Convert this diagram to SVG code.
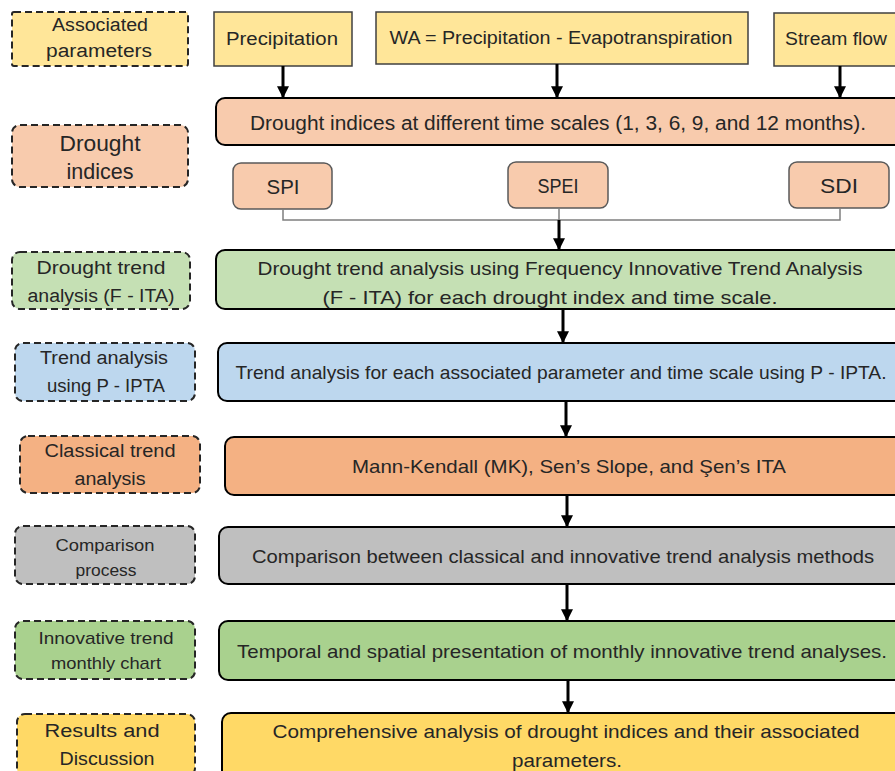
<svg xmlns="http://www.w3.org/2000/svg" width="895" height="771" viewBox="0 0 895 771">
<defs>
<marker id="ah" viewBox="0 0 10 10" refX="9" refY="5" markerWidth="4.5" markerHeight="4" orient="auto" markerUnits="strokeWidth"><path d="M0,0 L10,5 L0,10 z" fill="#000"/></marker>
<style>
text{font-family:"Liberation Sans",Arial,sans-serif;fill:#262626;text-anchor:middle;dominant-baseline:central}
.lab{stroke:#262626;stroke-width:2;stroke-dasharray:7,4}
.main{stroke:#000;stroke-width:2}
.top{stroke:#404040;stroke-width:1.5}
.idx{stroke:#595959;stroke-width:1.5}
.arr{stroke:#000;stroke-width:3;fill:none;marker-end:url(#ah)}
.con{stroke:#7f7f7f;stroke-width:1.5;fill:none}
.y1{fill:#FFE699}.o1{fill:#F8CBAD}.g1{fill:#C5E0B4}.b1{fill:#BDD7EE}.o2{fill:#F4B183}.gr{fill:#BFBFBF}.g2{fill:#A9D18E}.y2{fill:#FFD966}
.f18{font-size:18px}.f19{font-size:19px}.f20{font-size:20px}.f16{font-size:17px}.f22{font-size:22px}
</style>
</defs>
<rect width="895" height="771" fill="#fff"/>

<g id="lab-associated"><rect class="lab y1" x="12" y="12" width="176" height="54" rx="2"/><text class="f18" x="100" y="25" textLength="96" lengthAdjust="spacingAndGlyphs">Associated</text><text class="f18" x="99" y="51" textLength="106" lengthAdjust="spacingAndGlyphs">parameters</text></g>
<g id="lab-drought-indices"><rect class="lab o1" x="12" y="125" width="176" height="62" rx="8"/><text class="f22" x="100" y="143" textLength="81" lengthAdjust="spacingAndGlyphs">Drought</text><text class="f22" x="100" y="171" textLength="67" lengthAdjust="spacingAndGlyphs">indices</text></g>
<g id="lab-fita"><rect class="lab g1" x="12" y="252" width="178" height="57" rx="8"/><text class="f18" x="101" y="268" textLength="129" lengthAdjust="spacingAndGlyphs">Drought trend</text><text class="f18" x="101" y="296" textLength="147" lengthAdjust="spacingAndGlyphs">analysis (F - ITA)</text></g>
<g id="lab-pipta"><rect class="lab b1" x="15" y="343" width="180" height="58" rx="8"/><text class="f18" x="104" y="358" textLength="128" lengthAdjust="spacingAndGlyphs">Trend analysis</text><text class="f18" x="106" y="386" textLength="118" lengthAdjust="spacingAndGlyphs">using P - IPTA</text></g>
<g id="lab-classical"><rect class="lab o2" x="20" y="436" width="180" height="57" rx="8"/><text class="f18" x="110" y="451" textLength="131" lengthAdjust="spacingAndGlyphs">Classical trend</text><text class="f18" x="110" y="479" textLength="71" lengthAdjust="spacingAndGlyphs">analysis</text></g>
<g id="lab-comparison"><rect class="lab gr" x="15" y="526" width="180" height="58" rx="8"/><text class="f16" x="105" y="545" textLength="99" lengthAdjust="spacingAndGlyphs">Comparison</text><text class="f16" x="106" y="570" textLength="61" lengthAdjust="spacingAndGlyphs">process</text></g>
<g id="lab-innovative"><rect class="lab g2" x="15" y="621" width="180" height="58" rx="8"/><text class="f16" x="106" y="638" textLength="135" lengthAdjust="spacingAndGlyphs">Innovative trend</text><text class="f16" x="106" y="663" textLength="110" lengthAdjust="spacingAndGlyphs">monthly chart</text></g>
<g id="lab-results"><rect class="lab y2" x="17" y="714" width="178" height="62" rx="8"/><text class="f18" x="102" y="731" textLength="115" lengthAdjust="spacingAndGlyphs">Results and</text><text class="f18" x="107" y="759" textLength="95" lengthAdjust="spacingAndGlyphs">Discussion</text></g>

<g id="precipitation"><rect class="top y1" x="214" y="12" width="138" height="54"/><text class="f18" x="282" y="39" textLength="112" lengthAdjust="spacingAndGlyphs">Precipitation</text></g>
<g id="wa"><rect class="top y1" x="376" y="12" width="372" height="52"/><text class="f18" x="561" y="38" textLength="343" lengthAdjust="spacingAndGlyphs">WA = Precipitation - Evapotranspiration</text></g>
<g id="streamflow"><rect class="top y1" x="774" y="13" width="130" height="53"/><text class="f18" x="836" y="39" textLength="102" lengthAdjust="spacingAndGlyphs">Stream flow</text></g>

<g id="drought-indices"><rect class="main o1" x="216" y="98" width="690" height="47" rx="9"/><text class="f20" x="558" y="123" textLength="616" lengthAdjust="spacingAndGlyphs">Drought indices at different time scales (1, 3, 6, 9, and 12 months).</text></g>
<g id="spi"><rect class="idx o1" x="233" y="163" width="99" height="46" rx="8"/><text class="f20" x="283" y="187" textLength="33" lengthAdjust="spacingAndGlyphs">SPI</text></g>
<g id="spei"><rect class="idx o1" x="508" y="162" width="100" height="46" rx="8"/><text class="f20" x="558" y="186" textLength="41" lengthAdjust="spacingAndGlyphs">SPEI</text></g>
<g id="sdi"><rect class="idx o1" x="789" y="162" width="100" height="46" rx="8"/><text class="f20" x="839" y="186" textLength="38" lengthAdjust="spacingAndGlyphs">SDI</text></g>

<g id="fita"><rect class="main g1" x="216" y="250" width="690" height="59" rx="9"/><text class="f19" x="560" y="268" textLength="605" lengthAdjust="spacingAndGlyphs">Drought trend analysis using Frequency Innovative Trend Analysis</text><text class="f19" x="550" y="297" textLength="455" lengthAdjust="spacingAndGlyphs">(F - ITA) for each drought index and time scale.</text></g>
<g id="pipta"><rect class="main b1" x="218" y="343" width="690" height="58" rx="9"/><text class="f19" x="561" y="372" textLength="651" lengthAdjust="spacingAndGlyphs">Trend analysis for each associated parameter and time scale using P - IPTA.</text></g>
<g id="classical"><rect class="main o2" x="225" y="437" width="683" height="58" rx="9"/><text class="f19" x="569" y="466" textLength="434" lengthAdjust="spacingAndGlyphs">Mann-Kendall (MK), Sen’s Slope, and Şen’s ITA</text></g>
<g id="comparison"><rect class="main gr" x="219" y="527" width="690" height="57" rx="9"/><text class="f19" x="563" y="556" textLength="622" lengthAdjust="spacingAndGlyphs">Comparison between classical and innovative trend analysis methods</text></g>
<g id="temporal"><rect class="main g2" x="219" y="621" width="690" height="59" rx="9"/><text class="f19" x="562" y="651" textLength="650" lengthAdjust="spacingAndGlyphs">Temporal and spatial presentation of monthly innovative trend analyses.</text></g>
<g id="comprehensive"><rect class="main y2" x="222" y="713" width="690" height="68" rx="9"/><text class="f19" x="566" y="731" textLength="587" lengthAdjust="spacingAndGlyphs">Comprehensive  analysis of drought indices and their associated</text><text class="f19" x="567" y="760" textLength="110" lengthAdjust="spacingAndGlyphs">parameters.</text></g>

<g id="connectors">
<line class="arr" x1="283" y1="66" x2="283" y2="97"/>
<line class="arr" x1="557" y1="64" x2="557" y2="97"/>
<line class="arr" x1="840" y1="66" x2="840" y2="97"/>
<path class="con" d="M283,209 V220 H840 V208"/>
<line class="con" x1="559" y1="208" x2="559" y2="220"/>
<line class="arr" x1="559" y1="220" x2="559" y2="249"/>
<line class="arr" x1="563" y1="309" x2="563" y2="342"/>
<line class="arr" x1="566" y1="401" x2="566" y2="436"/>
<line class="arr" x1="567" y1="495" x2="567" y2="526"/>
<line class="arr" x1="567" y1="584" x2="567" y2="620"/>
<line class="arr" x1="568" y1="680" x2="568" y2="712"/>
</g>
</svg>
